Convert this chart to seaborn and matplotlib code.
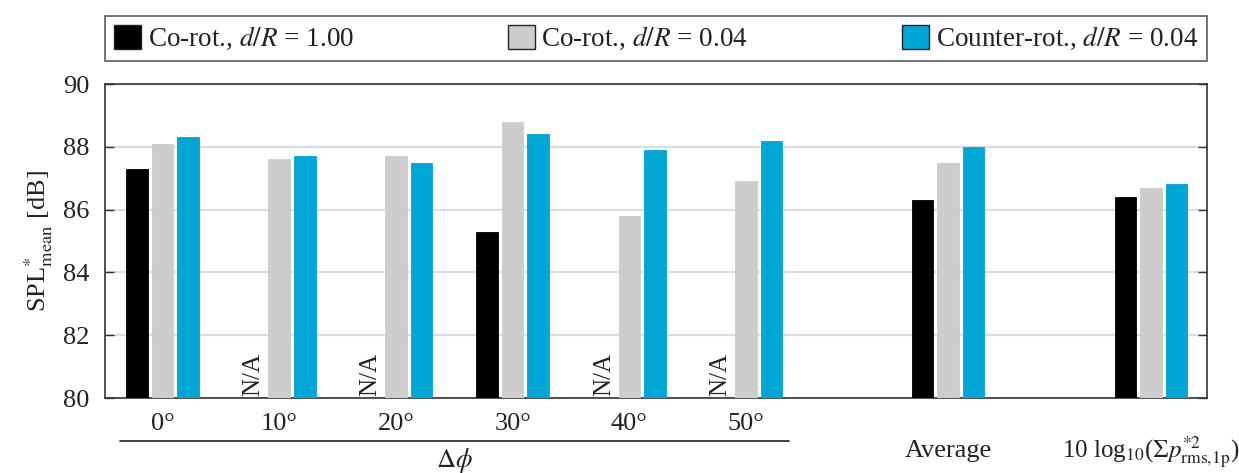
import numpy as np
import pandas as pd
import matplotlib
matplotlib.use("Agg")
import matplotlib.pyplot as plt
import matplotlib.transforms as mtransforms
from matplotlib.patches import Patch
import seaborn as sns

# ---------------- data ----------------
categories = ["0°", "10°", "20°", "30°", "40°", "50°", "Average",
              r"10 log$_{10}$($\Sigma p^{*2}_{\mathrm{rms,\!1p}}$)"]
series_names = [r"Co-rot., $d/R$ = 1.00", r"Co-rot., $d/R$ = 0.04",
                r"Counter-rot., $d/R$ = 0.04"]
co_rot_100 = [87.3, np.nan, np.nan, 85.3, np.nan, np.nan, 86.3, 86.4]
co_rot_004 = [88.1, 87.6, 87.7, 88.8, 85.8, 86.9, 87.5, 86.7]
counter_rot_004 = [88.3, 87.7, 87.5, 88.4, 87.9, 88.2, 88.0, 86.8]
y_ticks = [80, 82, 84, 86, 88, 90]

# ---------------- layout / style ----------------
group_pos = [0, 1, 2, 3, 4, 5, 6.73, 8.47]
colors = ["#000000", "#cccccc", "#00a6d6"]
FS = 19

sns.set_theme(style="white")
plt.rcParams["font.family"] = ["Liberation Serif", "DejaVu Serif"]
plt.rcParams["mathtext.fontset"] = "stix"

rows = []
for name, vals in zip(series_names, [co_rot_100, co_rot_004, counter_rot_004]):
    for p, v in zip(group_pos, vals):
        rows.append({"pos": p, "series": name, "value": v})
df = pd.DataFrame(rows)

fig = plt.figure(figsize=(12.39, 4.73), dpi=100)
ax = fig.add_axes([105 / 1239, 75 / 473, 1102 / 1239, 314 / 473])

sns.barplot(data=df.dropna(), x="pos", y="value", hue="series",
            hue_order=series_names, palette=colors, native_scale=True,
            width=0.657, gap=0.16, saturation=1, errorbar=None,
            legend=False, ax=ax, zorder=3)
for patch in ax.patches:
    patch.set_edgecolor(patch.get_facecolor())
    patch.set_linewidth(0.6)

ax.set_ylim(80, 90)
ax.set_xlim(-0.493, 8.95)
ax.set_yticks(y_ticks)
ax.set_yticklabels([str(t) for t in y_ticks], fontsize=FS)
ax.yaxis.grid(True, color="#dcdcdc", linewidth=1.6, zorder=0)
ax.set_axisbelow(True)
ax.tick_params(axis="y", direction="in", length=6.5, width=1.0,
               colors="#333333", left=True, right=True, pad=11,
               labelcolor="#222222")
ax.tick_params(axis="x", length=0, pad=11, labelsize=FS, labelcolor="#222222")
for s in ax.spines.values():
    s.set_color("#333333")
    s.set_linewidth(1.2)
    s.set_visible(True)

ax.set_xticks(group_pos)
ax.set_xticklabels(categories, fontsize=FS)
labels = ax.get_xticklabels()
for lab in labels[6:]:
    lab.set_verticalalignment("baseline")
    lab.set_y(-0.14)
labels[7].set_fontsize(FS - 1)
ax.set_xlabel("")

ax.set_ylabel(r"SPL$^{*}_{\mathrm{mean}}$ [dB]", fontsize=FS, labelpad=6,
              color="#222222")

# N/A annotations at missing positions
for p, v in zip(group_pos, co_rot_100):
    if np.isnan(v):
        ax.text(p - 0.219, 80.05, "N/A", rotation=90, ha="center",
                va="bottom", fontsize=FS - 1, color="#222222", zorder=4)

# Delta phi bracket
trans = mtransforms.blended_transform_factory(ax.transData, ax.transAxes)
ax.plot([-0.364, 5.37], [-0.137, -0.137], transform=trans, color="#222222",
        linewidth=1.2, clip_on=False)
ax.text(2.5, -0.2, r"$\Delta\phi$", transform=trans, ha="center",
        va="center", fontsize=FS, color="#222222")

# legend
handles = [Patch(facecolor=c, edgecolor="#222222", linewidth=1.0)
           for c in colors]
leg = ax.legend(handles, series_names, ncol=3, mode="expand",
                loc="lower left", bbox_to_anchor=(0, 1.073, 1, 0.1),
                frameon=True, fancybox=False, edgecolor="#333333",
                fontsize=19.5, handlelength=1.0, handleheight=1.0,
                handletextpad=0.25, borderpad=0.32, borderaxespad=0)
leg.get_frame().set_linewidth(1.2)
for t in leg.get_texts():
    t.set_color("#222222")

fig.savefig("out.png", dpi=100)
